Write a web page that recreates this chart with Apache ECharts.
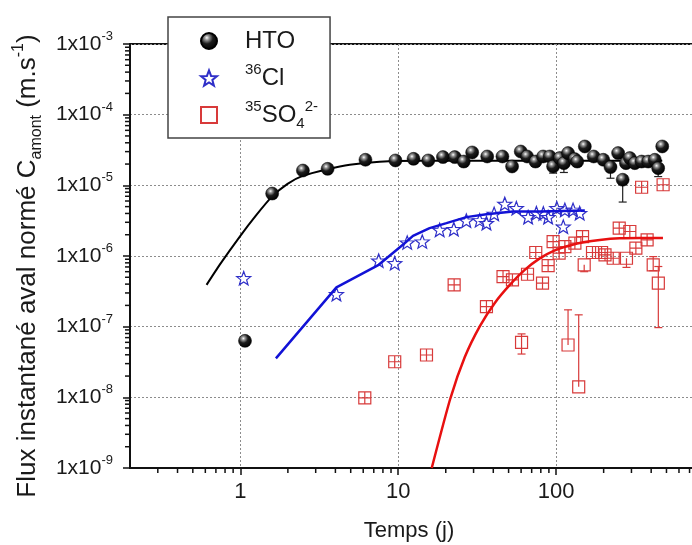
<!DOCTYPE html>
<html>
<head>
<meta charset="utf-8">
<script src="https://cdn.jsdelivr.net/npm/echarts@6/dist/echarts.min.js"></script>
<style>
html,body{margin:0;padding:0;background:#fff;}
#c{width:692px;height:545px;}
</style>
</head>
<body>
<div id="c"></div>
<script>
// ---------- data ----------
const htoX = [1.07, 1.59, 2.49, 3.57, 6.2, 9.6, 12.5, 15.5, 19.2, 22.8, 26, 29.4, 36.6, 45.7, 52.6, 59.7, 65.5, 74, 82.7, 91.2, 95.7, 105.5, 112, 119, 131, 136, 152, 173, 199, 221, 247, 264, 277, 293, 315, 348, 383, 422, 443, 470];
const htoY = [6.3e-8, 7.65e-6, 1.62e-5, 1.71e-5, 2.3e-5, 2.25e-5, 2.37e-5, 2.25e-5, 2.51e-5, 2.51e-5, 2.17e-5, 2.92e-5, 2.56e-5, 2.56e-5, 1.85e-5, 3.01e-5, 2.56e-5, 2.17e-5, 2.56e-5, 2.56e-5, 1.85e-5, 2.43e-5, 2.06e-5, 2.86e-5, 2.35e-5, 2.17e-5, 3.55e-5, 2.56e-5, 2.3e-5, 1.81e-5, 2.86e-5, 1.2e-5, 2.06e-5, 2.43e-5, 2.06e-5, 2.17e-5, 2.17e-5, 2.3e-5, 1.75e-5, 3.55e-5];
const htoErrX = [95.7, 112, 136, 221, 264, 443];
const htoErrY = [1.85e-5, 2.06e-5, 2.17e-5, 1.81e-5, 1.2e-5, 1.75e-5];
const htoErrLow = [1.49e-5, 1.52e-5, 1.91e-5, 1.26e-5, 5.8e-6, 1.33e-5];
const htoErrHigh = [1.85e-5, 2.06e-5, 2.17e-5, 1.81e-5, 1.2e-5, 1.75e-5];
const htoFitX = [0.611, 0.739, 1.0, 1.25, 1.58, 1.99, 2.48, 3.57, 4.93, 7.63, 13.7, 470];
const htoFitY = [3.9e-7, 7.48e-7, 1.93e-6, 3.7e-6, 6.87e-6, 1.05e-5, 1.36e-5, 1.69e-5, 1.95e-5, 2.15e-5, 2.22e-5, 2.22e-5];

const clX = [1.05, 4.06, 7.52, 9.5, 11.4, 14.2, 18.3, 22.5, 27, 32.8, 36.2, 40.5, 47.3, 56, 66.5, 75, 83, 89, 101, 111, 113.6, 128, 141];
const clY = [4.85e-7, 2.88e-7, 8.6e-7, 7.9e-7, 1.55e-6, 1.6e-6, 2.34e-6, 2.4e-6, 3.17e-6, 3.2e-6, 2.92e-6, 3.95e-6, 5.47e-6, 4.75e-6, 3.55e-6, 4.04e-6, 4.0e-6, 3.55e-6, 4.75e-6, 2.6e-6, 4.5e-6, 4.5e-6, 4.04e-6];
const clFitX = [1.68, 4.06, 7.52, 10.7, 12.4, 15.8, 20.2, 27, 36.2, 53.4, 78.8, 152];
const clFitY = [3.56e-8, 3.6e-7, 7.5e-7, 1.44e-6, 1.93e-6, 2.48e-6, 2.92e-6, 3.55e-6, 3.91e-6, 4.25e-6, 4.25e-6, 4.4e-6];

const so4X = [6.14, 9.5, 15.1, 22.6, 36.2, 46.1, 52.9, 60.4, 65.9, 74.3, 82, 89, 95.7, 104.5, 113.6, 119, 131.5, 139, 147, 150.6, 170, 194, 204, 230, 251, 279, 293, 320, 348, 377, 412, 444, 476];
const so4Y = [9.8e-9, 3.19e-8, 3.97e-8, 3.9e-7, 1.92e-7, 5.1e-7, 4.58e-7, 6.0e-8, 5.52e-7, 1.12e-6, 4.12e-7, 7.3e-7, 1.6e-6, 1.1e-6, 1.36e-6, 5.5e-8, 1.52e-6, 1.41e-8, 1.88e-6, 7.5e-7, 1.12e-6, 1.12e-6, 1.04e-6, 9.3e-7, 2.48e-6, 9.3e-7, 2.22e-6, 1.29e-6, 9.4e-6, 1.69e-6, 7.5e-7, 4.12e-7, 1.02e-5];
const so4Plain = [60.4, 119, 139, 150.6, 279, 412, 444];
const so4ErrX = [60.4, 119, 139, 150.6, 279, 412, 444];
const so4ErrY = [6.0e-8, 5.5e-8, 1.41e-8, 7.5e-7, 9.3e-7, 7.5e-7, 4.12e-7];
const so4ErrLow = [4.1e-8, 5.5e-8, 1.41e-8, 6.0e-7, 6.9e-7, 6.2e-7, 9.7e-8];
const so4ErrHigh = [7.9e-8, 1.73e-7, 1.47e-7, 7.5e-7, 9.3e-7, 9.8e-7, 7.1e-7];
const so4FitX = [16.3, 21.4, 26.4, 32.9, 40.9, 50.9, 63.3, 78.8, 98.1, 122, 152, 189, 253, 339, 475];
const so4FitY = [1e-9, 9.7e-9, 3.72e-8, 1.02e-7, 2.17e-7, 3.9e-7, 6.36e-7, 9.25e-7, 1.2e-6, 1.41e-6, 1.58e-6, 1.69e-6, 1.78e-6, 1.8e-6, 1.8e-6];

// axis ticks
const xMin = 0.2, xMax = 1000, yMin = 1e-9, yMax = 1e-3;
const minorMantissas = [2, 3, 4, 5, 6, 7, 8, 9];
const xMinorDecades = [0.1, 1, 10, 100];
const yMinorDecades = [1e-9, 1e-8, 1e-7, 1e-6, 1e-5, 1e-4];
const yLabelBase = '1x10';

// ---------- chart ----------
const FONT = "'Liberation Sans', Arial, Helvetica, sans-serif";
const TXT = '#1a1a1a';
const starPath = 'path://M10,0 L12.469,6.602 L19.511,6.91 L13.994,11.298 L15.878,18.09 L10,14.2 L4.122,18.09 L6.006,11.298 L0.489,6.91 L7.531,6.602 Z';
const squarePath = 'path://M0,0 L10,0 L10,10 L0,10 Z';
const crossSquarePath = 'path://M0,0 L10,0 L10,10 L0,10 Z M5,0 L5,10 M0,5 L10,5';

const xMinor = [];
xMinorDecades.forEach(d => minorMantissas.forEach(m => { const v = m * d; if (v > xMin && v < xMax) xMinor.push([v, yMin]); }));
const yMinor = [];
yMinorDecades.forEach(d => minorMantissas.forEach(m => { const v = m * d; if (v > yMin && v < yMax) yMinor.push([xMin, v]); }));

const sphere = {
  type: 'radial', x: 0.38, y: 0.32, r: 0.68,
  colorStops: [
    {offset: 0, color: '#ffffff'},
    {offset: 0.18, color: '#9a9a9a'},
    {offset: 0.5, color: '#1c1c1c'},
    {offset: 1, color: '#000000'}
  ]
};

function errBarSeries(xs, ys, lows, highs, color, z) {
  return {
    type: 'custom',
    z: z,
    silent: true,
    data: xs.map((x, i) => [x, ys[i], lows[i], highs[i]]),
    renderItem: function (params, api) {
      const x = api.value(0), y = api.value(1), lo = api.value(2), hi = api.value(3);
      const pLo = api.coord([x, lo]);
      const pHi = api.coord([x, hi]);
      const st = {stroke: color, lineWidth: 1.2};
      const ch = [{type: 'line', shape: {x1: pLo[0], y1: pLo[1], x2: pHi[0], y2: pHi[1]}, style: st}];
      const w = 4;
      if (lo < y) ch.push({type: 'line', shape: {x1: pLo[0] - w, y1: pLo[1], x2: pLo[0] + w, y2: pLo[1]}, style: st});
      if (hi > y) ch.push({type: 'line', shape: {x1: pHi[0] - w, y1: pHi[1], x2: pHi[0] + w, y2: pHi[1]}, style: st});
      return {type: 'group', children: ch};
    }
  };
}

const chart = echarts.init(document.getElementById('c'), null, {renderer: 'canvas'});
chart.setOption({
  animation: false,
  backgroundColor: '#ffffff',
  textStyle: {fontFamily: FONT},
  grid: {
    left: 130, top: 44, right: -22, bottom: 77,
    show: true, borderColor: '#111', borderWidth: 2, backgroundColor: 'transparent',
    containLabel: false, outerBoundsMode: 'none'
  },
  legend: {
    orient: 'vertical', left: 168, top: 17,
    itemWidth: 16, itemHeight: 16, itemGap: 9,
    padding: [12, 12, 7, 32],
    borderColor: '#444', borderWidth: 1.5, backgroundColor: '#ffffff',
    selectedMode: false,
    data: ['HTO', '36Cl', '35SO4'],
    formatter: function (name) {
      if (name === 'HTO') return '{g|}{t|HTO}';
      if (name === '36Cl') return '{g|}{sp|36}{t|Cl}';
      return '{g|}{sp|35}{t|SO}{sb|4}{sp|2-}';
    },
    textStyle: {
      color: TXT, fontFamily: FONT,
      rich: {
        g: {width: 23},
        t: {fontSize: 24, lineHeight: 32, fontFamily: FONT, color: TXT},
        sp: {fontSize: 15, lineHeight: 15, verticalAlign: 'top', fontFamily: FONT, color: TXT},
        sb: {fontSize: 15, lineHeight: 15, verticalAlign: 'bottom', fontFamily: FONT, color: TXT}
      }
    }
  },
  xAxis: {
    type: 'log', logBase: 10, min: xMin, max: xMax,
    axisLine: {show: true, onZero: false, lineStyle: {color: '#111', width: 2}},
    axisTick: {show: true, inside: false, length: 7, lineStyle: {color: '#111', width: 1.5}},
    axisLabel: {
      margin: 13, color: TXT, fontSize: 22, fontFamily: FONT,
      showMinLabel: false, showMaxLabel: false,
      formatter: function (v) { return (v < 0.5 || v > 900) ? '' : String(Math.round(v)); }
    },
    splitLine: {show: true, lineStyle: {color: '#8c8c8c', width: 1, type: [2, 2]}},
    minorTick: {show: false}
  },
  yAxis: {
    type: 'log', logBase: 10, min: yMin, max: yMax,
    axisLine: {show: true, onZero: false, lineStyle: {color: '#111', width: 2}},
    axisTick: {show: true, inside: false, length: 7, lineStyle: {color: '#111', width: 1.5}},
    axisLabel: {
      margin: 17, color: TXT,
      formatter: function (v) { return '{b|' + yLabelBase + '}{s|' + Math.round(Math.log10(v)) + '}'; },
      rich: {
        b: {fontSize: 21, lineHeight: 28, fontFamily: FONT, color: TXT},
        s: {fontSize: 13, lineHeight: 13, verticalAlign: 'top', fontFamily: FONT, color: TXT}
      }
    },
    splitLine: {show: true, lineStyle: {color: '#8c8c8c', width: 1, type: [2, 2]}}
  },
  graphic: [
    {
      type: 'text', x: 28, y: 266, rotation: Math.PI / 2, z: 10,
      style: {
        text: '{m|Flux instantané aval normé C}{sub|amont}{m| (m.s}{sup|-1}{m|)}',
        align: 'center', verticalAlign: 'middle', textAlign: 'center', textVerticalAlign: 'middle',
        fill: TXT,
        rich: {
          m: {fontSize: 26, lineHeight: 34, fontFamily: FONT, fill: TXT, color: TXT},
          sub: {fontSize: 16, lineHeight: 16, verticalAlign: 'bottom', fontFamily: FONT, fill: TXT, color: TXT},
          sup: {fontSize: 16, lineHeight: 16, verticalAlign: 'top', fontFamily: FONT, fill: TXT, color: TXT}
        }
      }
    },
    {
      type: 'text', x: 409, y: 531, z: 10,
      style: {
        text: 'Temps (j)', font: '22px ' + FONT, fill: TXT,
        align: 'center', verticalAlign: 'middle', textAlign: 'center', textVerticalAlign: 'middle'
      }
    }
  ],
  series: [
    // minor ticks (x)
    {
      type: 'custom', silent: true, z: 5, data: xMinor,
      renderItem: function (params, api) {
        const p = api.coord([api.value(0), api.value(1)]);
        return {type: 'line', shape: {x1: p[0], y1: p[1], x2: p[0], y2: p[1] + 5}, style: {stroke: '#111', lineWidth: 1.5}};
      }
    },
    // minor ticks (y)
    {
      type: 'custom', silent: true, z: 5, data: yMinor,
      renderItem: function (params, api) {
        const p = api.coord([api.value(0), api.value(1)]);
        return {type: 'line', shape: {x1: p[0] - 5, y1: p[1], x2: p[0], y2: p[1]}, style: {stroke: '#111', lineWidth: 1.5}};
      }
    },
    errBarSeries(htoErrX, htoErrY, htoErrLow, htoErrHigh, '#222', 2),
    errBarSeries(so4ErrX, so4ErrY, so4ErrLow, so4ErrHigh, '#d83a3a', 2),
    {
      name: 'HTO fit', type: 'line', z: 2, symbol: 'none', smooth: 0.2,
      data: htoFitX.map((x, i) => [x, htoFitY[i]]),
      lineStyle: {color: '#000', width: 2}
    },
    {
      name: '36Cl fit', type: 'line', z: 4, symbol: 'none',
      data: clFitX.map((x, i) => [x, clFitY[i]]),
      lineStyle: {color: '#1212d6', width: 2.5}
    },
    {
      name: '35SO4 fit', type: 'line', z: 4, symbol: 'none', smooth: 0.2,
      data: so4FitX.map((x, i) => [x, so4FitY[i]]),
      lineStyle: {color: '#e81010', width: 2.5}
    },
    {
      name: 'HTO', type: 'scatter', z: 3, symbol: 'circle', symbolSize: 13,
      data: htoX.map((x, i) => [x, htoY[i]]),
      itemStyle: {color: sphere, borderColor: '#000', borderWidth: 0.5, opacity: 1}
    },
    {
      name: '36Cl', type: 'scatter', z: 3, symbol: starPath, symbolSize: 14, symbolKeepAspect: true,
      data: clX.map((x, i) => [x, clY[i]]),
      itemStyle: {color: 'rgba(0,0,0,0)', borderColor: '#2f2fc8', borderWidth: 1.2, opacity: 1}
    },
    {
      name: '35SO4', type: 'scatter', z: 3, symbol: squarePath, symbolSize: 12, symbolKeepAspect: true,
      data: so4X.map((x, i) => ({
        value: [x, so4Y[i]],
        symbol: so4Plain.indexOf(x) >= 0 ? squarePath : crossSquarePath
      })),
      itemStyle: {color: 'rgba(0,0,0,0)', borderColor: '#d83a3a', borderWidth: 1.2, opacity: 1}
    }
  ]
});
</script>
</body>
</html>
